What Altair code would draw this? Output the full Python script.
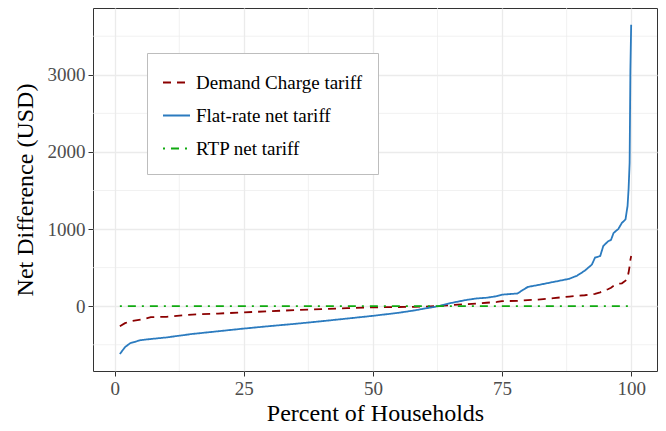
import altair as alt
import pandas as pd

series_names = ["Demand Charge tariff", "Flat-rate net tariff", "RTP net tariff"]

pct = [1, 2, 3, 5, 7, 10, 15, 20, 25, 30, 35, 40, 45, 50, 55, 58, 60, 62, 63, 65,
       68, 70, 72, 74, 75, 78, 79, 80, 82, 85, 88, 89.5, 91, 92.4, 93, 94, 94.6,
       95.5, 96.1, 96.6, 97.5, 98.2, 98.9, 99.3, 99.5, 99.7, 99.85, 100]

flat = [-620, -530, -480, -440, -425, -405, -360, -325, -290, -258, -228, -195, -160,
        -125, -85, -55, -30, -8, 5, 40, 80, 100, 110, 130, 150, 165, 210, 250, 275,
        315, 355, 395, 460, 540, 630, 650, 780, 840, 860, 950, 1000, 1080, 1125,
        1300, 1520, 1860, 3070, 3650]

demand = [-259, -220, -195, -175, -142, -138, -108, -95, -80, -65, -50, -38, -25,
          -15, -10, -8, -5, 0, 3, 15, 25, 35, 45, 55, 65, 70, 75, 80, 86, 105, 125,
          133, 142, 155, 160, 180, 198, 220, 240, 265, 290, 297, 330, 380, 436, 520,
          600, 651]

rtp_pct = [1, 100]
rtp = [0, 0]

x_major = [0, 25, 50, 75, 100]
y_major = [0, 1000, 2000, 3000]
x_minor = [12.5, 37.5, 62.5, 87.5]
y_minor = [-500, 500, 1500, 2500, 3500]

rows = []
for x, v in zip(pct, demand):
    rows.append({"pct": x, "val": v, "series": series_names[0]})
for x, v in zip(pct, flat):
    rows.append({"pct": x, "val": v, "series": series_names[1]})
for x, v in zip(rtp_pct, rtp):
    rows.append({"pct": x, "val": v, "series": series_names[2]})
df = pd.DataFrame(rows)

FONT = "Liberation Serif"
GRID = "#EBEBEB"

x_scale = alt.Scale(domain=[-4.2, 105.0], nice=False, zero=False)
y_scale = alt.Scale(domain=[-840, 3866], nice=False, zero=False)
color_scale = alt.Scale(domain=series_names, range=["#8B0000", "#2B7BBF", "#10AA10"])
dash_scale = alt.Scale(domain=series_names, range=[[8, 6], [1, 0], [2, 6, 8, 6]])

x_axis = alt.Axis(values=x_major, format="d", title="Percent of Households", titlePadding=3)
y_axis = alt.Axis(values=y_major, format="d", title="Net Difference (USD)", titlePadding=10)

legend = alt.Legend(
    title=None, orient="none", legendX=54, legendY=45,
    symbolType="stroke", symbolSize=729, symbolStrokeWidth=1.8,
    labelFont=FONT, labelFontSize=19, labelColor="black", labelLimit=400,
    labelOffset=5, padding=15, rowPadding=8,
    strokeColor="#BDBDBD", fillColor="white", cornerRadius=0,
)

vgrid = alt.Chart(pd.DataFrame({"v": x_minor})).mark_rule(
    color=GRID, strokeWidth=0.7
).encode(x=alt.X("v:Q", scale=x_scale, axis=x_axis))

hgrid = alt.Chart(pd.DataFrame({"v": y_minor})).mark_rule(
    color=GRID, strokeWidth=0.7
).encode(y=alt.Y("v:Q", scale=y_scale, axis=y_axis))

lines = alt.Chart(df).mark_line(strokeWidth=1.8).encode(
    x=alt.X("pct:Q", scale=x_scale, axis=x_axis),
    y=alt.Y("val:Q", scale=y_scale, axis=y_axis),
    color=alt.Color("series:N", scale=color_scale, legend=legend),
    strokeDash=alt.StrokeDash("series:N", scale=dash_scale, legend=legend),
)

chart = alt.layer(vgrid, hgrid, lines).properties(
    width=564, height=363,
    autosize=alt.AutoSizeParams(type="none"),
    padding={"left": 85, "top": 0, "right": 1, "bottom": 58},
    background="white",
).configure_view(
    stroke="#333333", strokeWidth=1
).configure_axis(
    domain=False, grid=True, gridColor=GRID, gridWidth=1.3,
    ticks=True, tickColor="#333333", tickSize=5, tickWidth=1,
    labelFont=FONT, labelFontSize=19, labelColor="#4D4D4D", labelPadding=3,
    titleFont=FONT, titleFontSize=24, titleFontWeight="normal", titleColor="black",
)

chart.save("out.html", embed_options={"renderer": "svg", "actions": False})
